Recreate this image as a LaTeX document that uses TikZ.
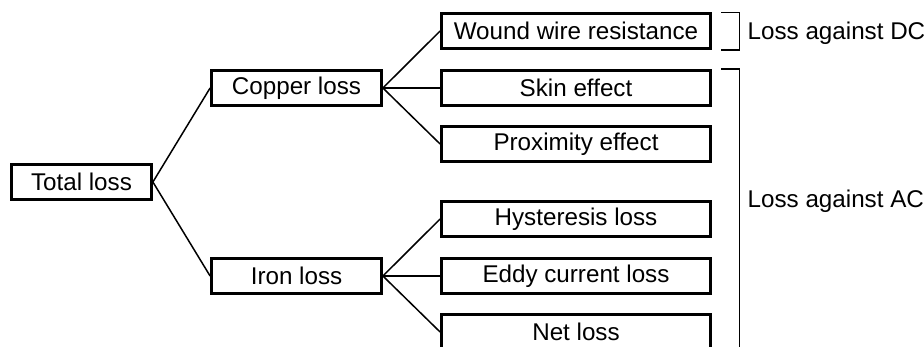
\documentclass[tikz,border=0pt]{standalone}
\usepackage{fontspec}
\setmainfont{Liberation Sans}
\begin{document}
\begin{tikzpicture}[x=1pt,y=-1pt,
  box/.style={draw,line width=3.3pt,minimum height=35.5pt,inner sep=0pt,
    font=\fontsize{24.2}{28}\selectfont},
  lbox/.style={box,minimum width=268.5pt},
  mbox/.style={box,minimum width=169.5pt},
  conn/.style={line width=1.5pt},
  brk/.style={line width=1.5pt},
  lab/.style={anchor=base west,inner sep=0pt,font=\fontsize{24.2}{28}\selectfont}]
\useasboundingbox (0,0) rectangle (924,347);
\clip (0,0) rectangle (924,347);
\node[box,minimum width=139.5pt] (total) at (81.5,182) {Total loss};
\node[mbox] (copper) at (296.5,88) {Copper loss};
\node[mbox] (iron) at (296.5,276) {Iron loss};
\node[lbox] (wound) at (576,31) {Wound wire resistance};
\node[lbox] (skin) at (576,88) {Skin effect};
\node[lbox] (prox) at (576,144) {Proximity effect};
\node[lbox] (hyst) at (576,219) {Hysteresis loss};
\node[lbox] (eddy) at (576,276) {Eddy current loss};
\node[lbox] (net) at (576,332) {Net loss};
\draw[conn] (total.east) -- (copper.west);
\draw[conn] (total.east) -- (iron.west);
\draw[conn] (copper.east) -- (wound.west);
\draw[conn] (copper.east) -- (skin.west);
\draw[conn] (copper.east) -- (prox.west);
\draw[conn] (iron.east) -- (hyst.west);
\draw[conn] (iron.east) -- (eddy.west);
\draw[conn] (iron.east) -- (net.west);
\draw[brk] (721,12.5) -- (739.3,12.5) -- (739.3,50) -- (721,50);
\draw[brk] (721,69) -- (739.3,69) -- (739.3,360);
\node[lab] (dc) at (747.5,39.3) {Loss against DC};
\node[lab] (ac) at (747.5,208) {Loss against AC};
\end{tikzpicture}
\end{document}
